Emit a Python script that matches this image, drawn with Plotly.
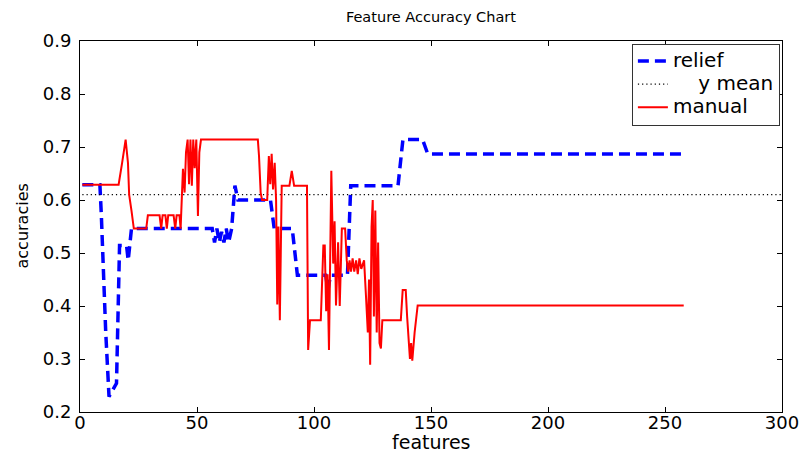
import plotly.graph_objects as go

# ---- data ----
relief_x = [1, 8.5, 9.1, 10, 11, 12.4, 15.6, 16.9, 19.9, 20.6, 22, 56.5, 57.5, 58.5, 59.5, 60.5,
            61.5, 62.5, 63.5, 64.8, 66.2, 67.5, 81.4, 83, 90.7, 92.9, 105, 106, 107, 114.3,
            115.7, 135.9, 138, 146.4, 148.6, 258]
relief_y = [0.629, 0.629, 0.574, 0.46, 0.35, 0.229, 0.254, 0.514, 0.514, 0.486, 0.546, 0.546,
            0.52, 0.546, 0.52, 0.54, 0.52, 0.546, 0.52, 0.546, 0.627, 0.6, 0.6, 0.546, 0.546,
            0.458, 0.458, 0.43, 0.458, 0.458, 0.627, 0.627, 0.714, 0.714, 0.687, 0.687]

manual_x = [1, 16.5, 18, 19.5, 20.5, 21, 22, 23, 28.3, 29, 34, 34.7, 35.3, 36.5, 37.1, 37.7, 40,
            40.7, 41.3, 42.5, 43, 43.5, 44, 44.7, 45.3, 46, 46.6, 47.2, 47.8, 48.4, 49, 49.7,
            50.4, 51, 51.7, 76, 76.5, 77.2, 77.8, 80, 80.7, 81.3, 81.9, 82.5, 83.2, 83.8, 84.3,
            84.8, 85.4, 86.2, 89.5, 90.5, 91.5, 97, 97.5, 98.3, 102.9, 104, 104.6, 105.2, 105.8,
            106.4, 107.4, 108.2, 108.8, 109.4, 110.3, 111, 111.9, 113.3, 114, 114.6, 115.2,
            115.8, 116.5, 117.2, 118, 118.7, 119.4, 120.2, 121.4, 122.2, 123, 123.5, 124, 124.6,
            125.1, 125.6, 126.2, 126.8, 127.4, 128, 128.6, 129.2, 137.1, 137.9, 139.2, 139.8,
            140.3, 141, 141.5, 142, 143, 144.3, 258]
manual_y = [0.629, 0.629, 0.67, 0.714, 0.67, 0.61, 0.58, 0.546, 0.546, 0.571, 0.571, 0.546,
            0.571, 0.571, 0.546, 0.571, 0.571, 0.546, 0.571, 0.571, 0.546, 0.614, 0.659, 0.614,
            0.69, 0.714, 0.63, 0.714, 0.627, 0.714, 0.66, 0.714, 0.57, 0.69, 0.714, 0.714,
            0.683, 0.614, 0.6, 0.6, 0.683, 0.63, 0.687, 0.62, 0.67, 0.6, 0.403, 0.55, 0.373,
            0.627, 0.627, 0.655, 0.627, 0.627, 0.317, 0.373, 0.373, 0.514, 0.514, 0.39, 0.46,
            0.317, 0.655, 0.48, 0.56, 0.401, 0.52, 0.4, 0.546, 0.546, 0.486, 0.465, 0.486,
            0.465, 0.49, 0.465, 0.486, 0.46, 0.49, 0.47, 0.486, 0.42, 0.35, 0.45, 0.289, 0.55,
            0.6, 0.38, 0.58, 0.35, 0.52, 0.33, 0.32, 0.373, 0.373, 0.43, 0.43, 0.38, 0.34, 0.30,
            0.33, 0.297, 0.35, 0.401, 0.401]

mean_x = [1, 300]
mean_y = [0.61, 0.61]

x_ticks = [0, 50, 100, 150, 200, 250, 300]
y_ticks = [0.2, 0.3, 0.4, 0.5, 0.6, 0.7, 0.8, 0.9]

FONT = "DejaVu Sans, Arial, Helvetica, sans-serif"


def leg(txt):
    return f"<span style='font-size:20px'>{txt}</span>"


fig = go.Figure()
fig.add_trace(go.Scatter(x=relief_x, y=relief_y, mode="lines", name=leg("relief"),
                         line=dict(color="#0000ff", width=3.5, dash="11px,6px")))
fig.add_trace(go.Scatter(x=mean_x, y=mean_y, mode="lines",
                         name=leg("\u00a0\u00a0\u00a0\u00a0y mean"),
                         line=dict(color="black", width=1.2, dash="1.2px,3px")))
fig.add_trace(go.Scatter(x=manual_x, y=manual_y, mode="lines", name=leg("manual"),
                         line=dict(color="#ff0000", width=2)))

axis_common = dict(showline=True, linecolor="black", linewidth=1, mirror="ticks",
                   ticks="inside", ticklen=5, tickcolor="black", showgrid=False,
                   zeroline=False, automargin=False,
                   tickfont=dict(family=FONT, size=18, color="black"))

fig.update_layout(
    width=804, height=454,
    margin=dict(l=80, r=22, t=41, b=42),
    paper_bgcolor="white", plot_bgcolor="white",
    font=dict(family=FONT, color="black"),
    title=dict(text="Feature Accuracy Chart", x=0.536, xanchor="center",
               y=0.962, yref="container", yanchor="middle",
               font=dict(family=FONT, size=14.5, color="black")),
    xaxis=dict(range=[0, 300], tickvals=x_ticks, ticktext=[str(v) for v in x_ticks],
               ticklabelstandoff=-6, **axis_common),
    yaxis=dict(range=[0.2, 0.9], tickvals=y_ticks, ticktext=[f"{v:.1f}" for v in y_ticks],
               ticklabelstandoff=4, **axis_common),
    legend=dict(x=0.997, xanchor="right", y=0.993, yanchor="top",
                bgcolor="white", bordercolor="#333333", borderwidth=1,
                font=dict(family=FONT, size=15.4, color="black"),
                tracegroupgap=0, itemwidth=30),
    showlegend=True,
    annotations=[
        dict(text="features", xref="paper", yref="paper", x=0.5, y=-0.082,
             xanchor="center", yanchor="middle", showarrow=False,
             font=dict(family=FONT, size=19, color="black")),
        dict(text="accuracies", xref="paper", yref="paper", x=-0.0826, y=0.5,
             xanchor="center", yanchor="middle", showarrow=False, textangle=-90,
             font=dict(family=FONT, size=16, color="black")),
    ],
)

fig.write_html("out.html")
